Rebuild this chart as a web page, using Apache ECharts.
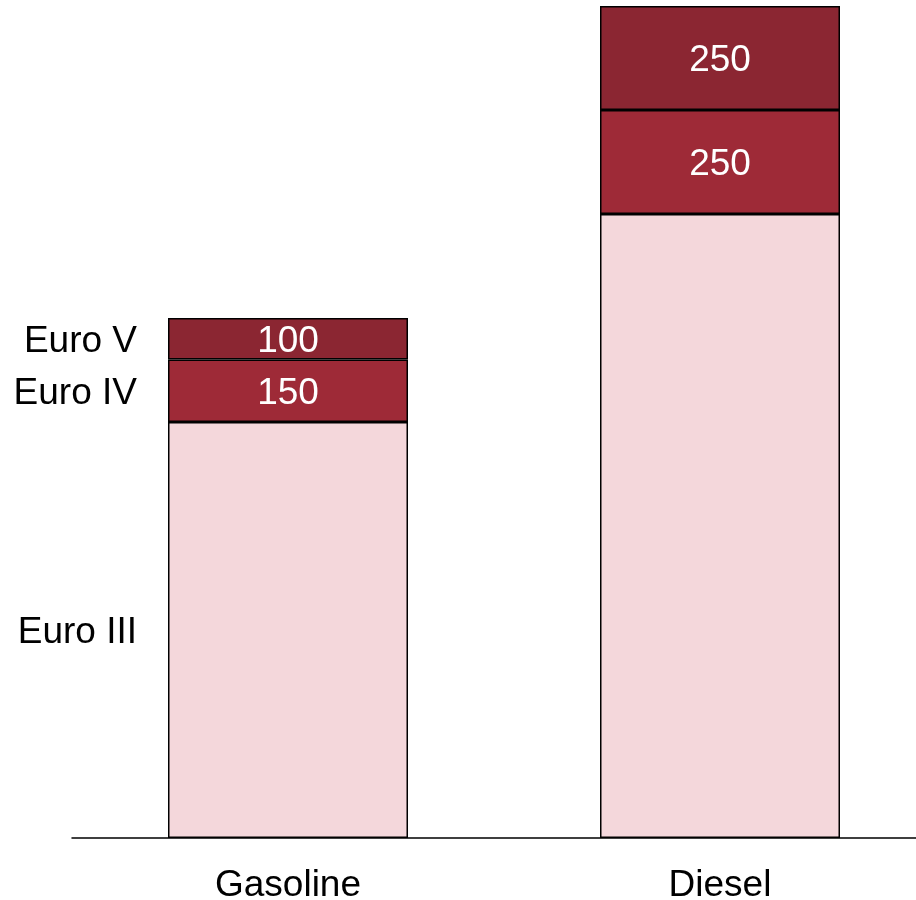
<!DOCTYPE html>
<html>
<head>
<meta charset="utf-8">
<style>
  html, body { margin: 0; padding: 0; background: #ffffff; }
  #chart { width: 916px; height: 900px; }
</style>
<script src="https://cdn.jsdelivr.net/npm/echarts@6/dist/echarts.min.js"></script>
</head>
<body>
<div id="chart"></div>
<script>
// Fuel types on the x axis
const categories = ['Gasoline', 'Diesel'];

// Emission-standard segments, stacked bottom to top
const euroIII = [1000, 1500];
const euroIV = [150, 250];
const euroV = [100, 250];

const seriesNames = ['Euro III', 'Euro IV', 'Euro V'];
const seriesColors = ['#f4d7db', '#9e2a37', '#8b2632'];

const FONT = 'Liberation Sans, Arial, sans-serif';
const FONT_SIZE = 37;
// Nudge so glyphs sit optically centred on the segment
const TEXT_NUDGE = [0, 3];

// Stacked segment; the first bar carries the series name on its left side
function makeSeries(name, values, color) {
  return {
    name: name,
    type: 'bar',
    stack: 'total',
    barWidth: 240,
    itemStyle: { color: color, borderColor: '#000000', borderWidth: 1.5 },
    data: values.map((v, i) => i === 0 ? {
      value: v,
      label: {
        show: true,
        position: 'left',
        distance: 31,
        offset: TEXT_NUDGE,
        color: '#000000',
        fontFamily: FONT,
        fontSize: FONT_SIZE,
        formatter: name
      }
    } : v)
  };
}

// Transparent twin stack that prints the segment values inside the bars
function valueOverlay(name, values, showLabel) {
  return {
    name: name + ' value',
    type: 'bar',
    stack: 'overlay',
    barWidth: 240,
    barGap: '-100%',
    silent: true,
    itemStyle: { color: 'transparent' },
    label: {
      show: showLabel,
      position: 'inside',
      offset: TEXT_NUDGE,
      color: '#ffffff',
      fontFamily: FONT,
      fontSize: FONT_SIZE
    },
    data: values
  };
}

const chart = echarts.init(document.getElementById('chart'));
chart.setOption({
  animation: false,
  backgroundColor: '#ffffff',
  grid: {
    left: 72, width: 864, top: 6, height: 832,
    containLabel: false,
    outerBoundsMode: 'none'
  },
  xAxis: {
    type: 'category',
    data: categories,
    axisLine: { show: true, lineStyle: { color: '#000000', width: 1.5 } },
    axisTick: { show: false },
    axisLabel: { color: '#000000', fontFamily: FONT, fontSize: FONT_SIZE, margin: 29 }
  },
  yAxis: {
    type: 'value',
    min: 0,
    max: 2000,
    show: false,
    splitLine: { show: false }
  },
  series: [
    makeSeries(seriesNames[0], euroIII, seriesColors[0]),
    makeSeries(seriesNames[1], euroIV, seriesColors[1]),
    makeSeries(seriesNames[2], euroV, seriesColors[2]),
    valueOverlay(seriesNames[0], euroIII, false),
    valueOverlay(seriesNames[1], euroIV, true),
    valueOverlay(seriesNames[2], euroV, true)
  ]
});
</script>
</body>
</html>
